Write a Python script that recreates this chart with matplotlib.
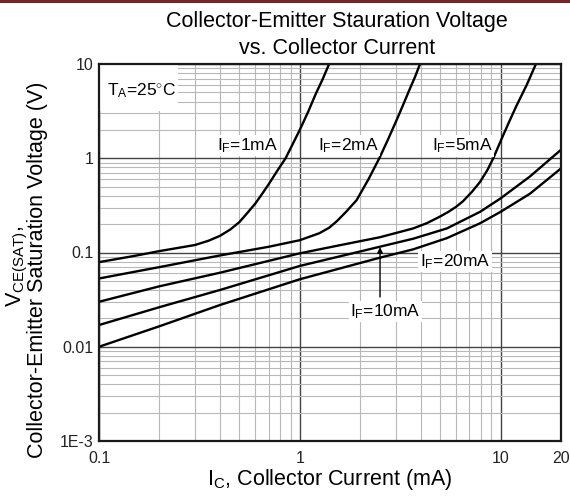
import matplotlib.pyplot as plt
from matplotlib.patches import Rectangle
from matplotlib.ticker import FixedLocator, NullFormatter

plt.rcParams['font.family'] = ['Liberation Sans', 'DejaVu Sans']
plt.rcParams['mathtext.fontset'] = 'custom'
plt.rcParams['mathtext.rm'] = 'Liberation Sans'
plt.rcParams['mathtext.it'] = 'Liberation Sans:italic'
plt.rcParams['mathtext.bf'] = 'Liberation Sans:bold'

# collector current (mA) vs saturation voltage (V)
ic_1ma = [0.1, 0.15, 0.2, 0.3, 0.35, 0.4, 0.45, 0.5, 0.55, 0.6, 0.65, 0.7, 0.78,
          0.85, 0.92, 1.0, 1.1, 1.2, 1.3, 1.4]
vce_1ma = [0.079, 0.092, 0.1035, 0.12, 0.133, 0.15, 0.175, 0.21, 0.265, 0.33,
           0.42, 0.53, 0.76, 1.0, 1.4, 2.0, 3.1, 4.8, 6.9, 10]

ic_2ma = [0.1, 0.2, 0.4, 0.7, 1.0, 1.25, 1.4, 1.53, 1.7, 1.92, 2.2, 2.49, 2.75,
          3.05, 3.3, 3.5, 3.75, 3.97]
vce_2ma = [0.053, 0.070, 0.093, 0.115, 0.135, 0.16, 0.183, 0.215, 0.27, 0.36,
           0.60, 1.0, 1.58, 2.6, 3.85, 5.2, 7.3, 10]

ic_5ma = [0.1, 0.2, 0.4, 1.0, 1.6, 2.5, 3.67, 4.3, 4.98, 5.5, 6.0, 6.5, 7.2, 7.9,
          8.6, 9.2, 10.1, 11, 12, 13.5, 15]
vce_5ma = [0.030, 0.0438, 0.061, 0.098, 0.12, 0.145, 0.18, 0.205, 0.24, 0.27,
           0.305, 0.35, 0.44, 0.56, 0.75, 1.0, 1.59, 2.4, 3.6, 6.0, 10]

ic_10ma = [0.1, 0.2, 0.4, 1.0, 2.5, 3.67, 5.4, 7.9, 10, 14, 20]
vce_10ma = [0.017, 0.0263, 0.040, 0.072, 0.115, 0.14, 0.18, 0.27, 0.375, 0.64, 1.23]

ic_20ma = [0.1, 0.2, 0.4, 1.0, 2.5, 3.67, 5.4, 7.9, 10, 14, 20]
vce_20ma = [0.010, 0.0165, 0.0277, 0.052, 0.088, 0.108, 0.142, 0.204, 0.27, 0.42, 0.78]

x_ticks = [0.1, 1, 10, 20]
x_ticklabels = ['0.1', '1', '10', '20']
y_ticks = [1e-3, 0.01, 0.1, 1, 10]
y_ticklabels = ['1E-3', '0.01', '0.1', '1', '10']
minor_steps = [2, 3, 4, 5, 6, 7, 8, 9]

W, H = 570, 496
fig = plt.figure(figsize=(W / 100, H / 100), dpi=100)
ax = fig.add_axes([99 / W, 1 - 441 / H, 462 / W, 377 / H])

for ic, vce in [(ic_1ma, vce_1ma), (ic_2ma, vce_2ma), (ic_5ma, vce_5ma),
                (ic_10ma, vce_10ma), (ic_20ma, vce_20ma)]:
    ax.plot(ic, vce, color='black', lw=1.7, solid_joinstyle='round', zorder=2)

ax.set_xscale('log')
ax.set_yscale('log')
ax.set_xlim(0.1, 20)
ax.set_ylim(1e-3, 10)

ax.xaxis.set_major_locator(FixedLocator(x_ticks))
ax.set_xticklabels(x_ticklabels)
ax.yaxis.set_major_locator(FixedLocator(y_ticks))
ax.set_yticklabels(y_ticklabels)
x_minor = [d * s for d in (0.1, 1) for s in minor_steps]
y_minor = [d * s for d in (1e-3, 0.01, 0.1, 1) for s in minor_steps]
ax.xaxis.set_minor_locator(FixedLocator(x_minor))
ax.yaxis.set_minor_locator(FixedLocator(y_minor))
ax.xaxis.set_minor_formatter(NullFormatter())
ax.yaxis.set_minor_formatter(NullFormatter())
ax.tick_params(which='both', length=0, labelsize=11.5, colors='#222222')
ax.tick_params(axis='x', pad=7)
ax.tick_params(axis='y', pad=4)

ax.set_axisbelow(True)
ax.grid(which='major', color='#444444', lw=1.0)
ax.grid(which='minor', color='#b8b8b8', lw=0.8)
for sp in ax.spines.values():
    sp.set_color('#1a1a1a')
    sp.set_linewidth(1.6)

# white area behind the temperature note
ax.add_patch(Rectangle((0, 0.875), 0.171, 0.125, transform=ax.transAxes,
                       facecolor='white', edgecolor='none', zorder=1))
ax.text(0.0173, 0.918, r'T$_{\rm A}$=25$^{\circ}$C', transform=ax.transAxes,
        ha='left', va='baseline', fontsize=12.5, zorder=3)

box = dict(facecolor='white', edgecolor='none', pad=1.0)
ax.text(0.546, 1.22, r'I$_{\rm F}$=1mA', ha='center', va='baseline', fontsize=12.5, bbox=box, zorder=3)
ax.text(1.74, 1.22, r'I$_{\rm F}$=2mA', ha='center', va='baseline', fontsize=12.5, bbox=box, zorder=3)
ax.text(6.42, 1.20, r'I$_{\rm F}$=5mA', ha='center', va='baseline', fontsize=12.5, bbox=box, zorder=3)
ax.text(5.93, 0.072, r'I$_{\rm F}$=20mA', ha='center', va='baseline', fontsize=12.5, bbox=box, zorder=3)
ax.text(2.66, 0.0212, r'I$_{\rm F}$=10mA', ha='center', va='baseline', fontsize=12.5, bbox=box, zorder=3)
ax.annotate('', xy=(2.51, 0.114), xytext=(2.51, 0.0337),
            arrowprops=dict(arrowstyle='-|>', color='black', lw=1.0,
                            mutation_scale=8, shrinkA=0, shrinkB=0), zorder=4)

fig.text(337 / W, 1 - 22 / H, 'Collector-Emitter Stauration Voltage',
         ha='center', va='center', fontsize=15.5)
fig.text(337 / W, 1 - 49 / H, 'vs. Collector Current',
         ha='center', va='center', fontsize=15.5)
fig.text(330 / W, 1 - 485 / H, r'I$_{\rm C}$, Collector Current (mA)',
         ha='center', va='baseline', fontsize=15.5)
fig.text(17 / W, 1 - 266 / H, r'V$_{\rm CE(SAT)}$,', rotation=90,
         ha='center', va='center', fontsize=15.5)
fig.text(38 / W, 1 - 270 / H, 'Collector-Emitter Saturation Voltage (V)',
         rotation=90, ha='center', va='center', fontsize=15.5)

fig.patches.append(Rectangle((0, 1 - 3 / H), 1, 3 / H, transform=fig.transFigure,
                             facecolor='#7b2326', edgecolor='none'))

fig.savefig('out.png', dpi=100)
